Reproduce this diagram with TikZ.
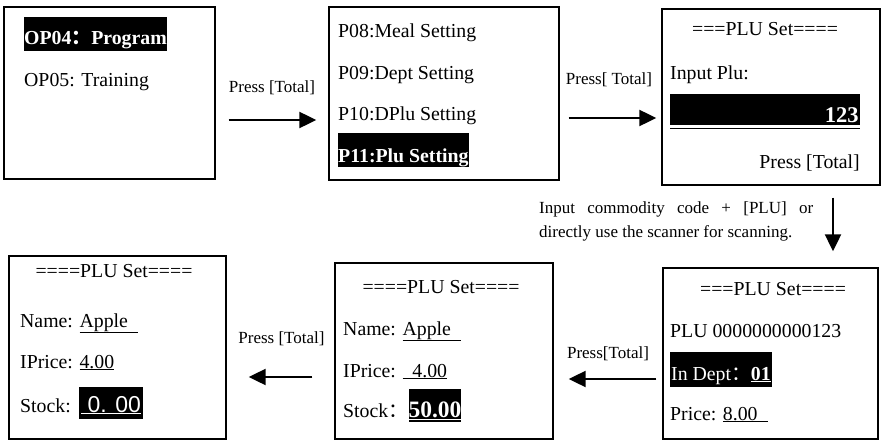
\documentclass[tikz,border=0pt]{standalone}
\usepackage{fontspec}
\setmainfont{Liberation Serif}
\newfontfamily\cjk{Noto Sans CJK SC}
\newfontfamily\lcdsans{Liberation Sans}
\usetikzlibrary{arrows.meta}

\newcommand{\fwc}{{\cjk ：}}

\tikzset{
  screen/.style={draw, line width=1.4pt, inner sep=0pt},
  lcd/.style={inner sep=0pt, font=\fontsize{19.8}{22}\selectfont},
  inv/.style={lcd, fill=black, text=white},
  lbl/.style={inner sep=0pt, font=\fontsize{17}{20}\selectfont},
  flow/.style={line width=2.2pt, -{Triangle[length=17pt,width=16pt]}},
}

\begin{document}
\begin{tikzpicture}[x=1pt, y=-1pt]
      \useasboundingbox (0,0) rectangle (883,441);
      %\draw[help lines] (0,0) grid[step=50] (883,441);

      \node[screen, minimum width=211, minimum height=172] (opbox)    at (109.5, 93) {};
      \node[screen, minimum width=230, minimum height=173] (menubox)  at (444, 93.5) {};
      \node[screen, minimum width=218, minimum height=176] (plubox)   at (771, 97)   {};
      \node[screen, minimum width=215, minimum height=171] (deptbox)  at (770.5, 353.5) {};
      \node[screen, minimum width=218, minimum height=176] (stockbox) at (444, 351)   {};
      \node[screen, minimum width=217, minimum height=183] (donebox)  at (117.5, 347.5) {};

      % screen 1
      \node[inv, anchor=base west, text height=28pt, text depth=6pt] (op4) at (24,45) {\bfseries OP04\fwc Program};
      \node[lcd, anchor=base west] (op5) at (24,87) {OP05: Training};

      % screen 2
      \node[lcd, anchor=base west] (p8)  at (338,38)  {P08:Meal Setting};
      \node[lcd, anchor=base west] (p9)  at (338,80)  {P09:Dept Setting};
      \node[lcd, anchor=base west] (p10) at (338,121) {P10:DPlu Setting};
      \node[inv, anchor=base west, text height=29pt, text depth=5pt] (p11) at (338,162) {\bfseries P11:Plu Setting};

      % screen 3
      \node[lcd, anchor=base] (plutitle) at (765,36) {===PLU Set====};
      \node[lcd, anchor=base west] (inputplu) at (670,80) {Input Plu:};
      \node[inv, anchor=north west, minimum width=190, text width=187pt, align=right,
            text height=28pt, text depth=3pt, font=\fontsize{22.5}{25}\selectfont] (codebar) at (670,94) {\bfseries 123};
      \draw[line width=1.5pt] ([yshift=-3pt]codebar.south west) -- ([yshift=-3pt]codebar.south east);
      \node[lcd, anchor=base east] (presstotal) at (860,168) {Press [Total]};

      % screen 4
      \node[lcd, anchor=base] (plutitle2) at (773,295) {===PLU Set====};
      \node[lcd, anchor=base west] (plucode) at (670,337) {PLU 0000000000123};
      \node[inv, anchor=base west, text height=28pt, text depth=7pt, inner xsep=1pt] (indept) at (670,380) {In Dept\fwc\underline{\bfseries 01}};
      \node[lcd, anchor=base west] (price) at (670,420) {Price: \underline{8.00\ \ }};

      % screen 5
      \node[lcd, anchor=base] (plutitle3) at (441,293) {====PLU Set====};
      \node[lcd, anchor=base west] (name5)   at (343,335) {Name: \underline{Apple\ \ }};
      \node[lcd, anchor=base west] (iprice5) at (343,377) {IPrice: \underline{\ \ 4.00}};
      \node[lcd, anchor=base west] (stocklbl5) at (343,417) {Stock\fwc};
      \node[inv, anchor=base west, text height=28pt, text depth=5pt, font=\fontsize{23.5}{26}\selectfont]
            (stock5) at (stocklbl5.base east) {\underline{\bfseries 50.00}};

      % screen 6
      \node[lcd, anchor=base] (plutitle4) at (114,277) {====PLU Set====};
      \node[lcd, anchor=base west] (name6)   at (20,327) {Name: \underline{Apple\ \ }};
      \node[lcd, anchor=base west] (iprice6) at (20,368) {IPrice: \underline{4.00}};
      \node[lcd, anchor=base west] (stocklbl6) at (20,412) {Stock:};
      \node[inv, anchor=base west, text height=25pt, text depth=7pt, inner xsep=2pt, font=\fontsize{23}{26}\lcdsans]
            (stock6) at (79,412) {\underline{\ 0. 00}};

      % arrows
      \draw[flow, shorten <=13pt, shorten >=12pt] (opbox.east |- 0,120) -- (menubox.west |- 0,120);
      \node[lbl, anchor=base] (press1) at (272,93) {Press [Total]};

      \draw[flow, shorten <=9pt, shorten >=5pt] (menubox.east |- 0,118) -- (plubox.west |- 0,118);
      \node[lbl, anchor=base] (press2) at (609,85) {Press[ Total]};

      \draw[flow, shorten <=12pt, shorten >=16pt] (plubox.south -| 833,0) -- (deptbox.north -| 833,0);
      \node[lbl, anchor=base west] (hint1) at (539,213) {\makebox[274pt][s]{Input commodity code + [PLU] or}};
      \node[lbl, anchor=base west] (hint2) at (539,237) {directly use the scanner for scanning.};

      \draw[flow, shorten <=6pt, shorten >=15pt] (deptbox.west |- 0,379) -- (stockbox.east |- 0,379);
      \node[lbl, anchor=base] (press3) at (608,358) {Press[Total]};

      \draw[flow, shorten <=22pt, shorten >=22pt] (stockbox.west |- 0,377) -- (donebox.east |- 0,377);
      \node[lbl, anchor=base] (press4) at (281.5,343) {Press [Total]};
\end{tikzpicture}
\end{document}
